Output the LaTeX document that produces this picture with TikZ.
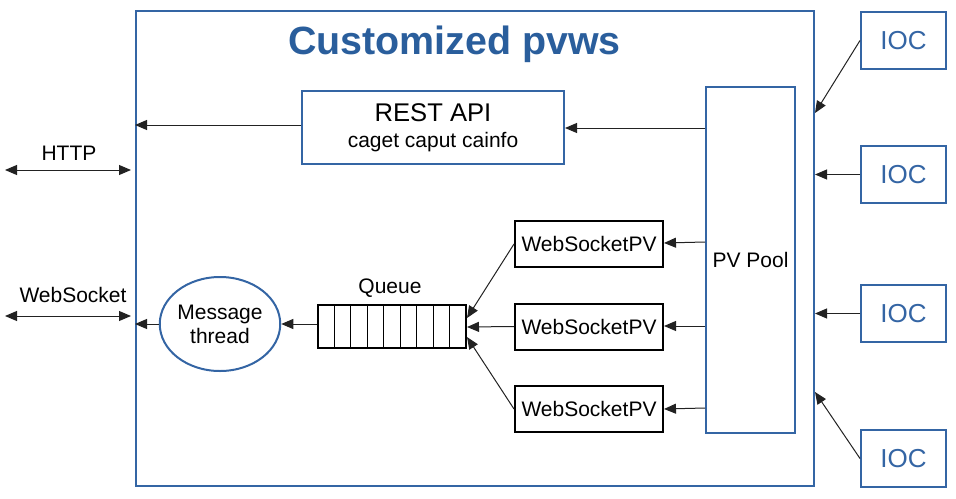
\documentclass[tikz,border=0pt]{standalone}
\usepackage{fontspec}
\setmainfont{Liberation Sans}
\usetikzlibrary{arrows.meta,shapes.geometric}
\definecolor{pvblue}{HTML}{3465A4}
\definecolor{titleblue}{HTML}{2A5E9C}
\definecolor{wire}{HTML}{222222}
\tikzset{
  bluebox/.style={draw=pvblue, line width=1pt, inner sep=0pt},
  blackbox/.style={draw=black, line width=1pt, inner sep=0pt},
  wirearrow/.style={draw=wire, line width=0.5pt, -{Triangle[length=6pt,width=5pt]}},
  twowayarrow/.style={draw=wire, line width=0.5pt, {Triangle[length=6pt,width=5pt]}-{Triangle[length=6pt,width=5pt]}},
  txt/.style={font=\fontsize{10.5}{12}\selectfont},
}
\begin{document}
\begin{tikzpicture}[x=0.5pt, y=-0.5pt]
    \useasboundingbox (0, 0) rectangle (956, 498);
    % outer server box
    \node[bluebox, minimum width=339pt, minimum height=237.5pt] (pvws) at (475, 248.5) {};
    \node[font=\fontsize{19.7}{22}\selectfont\bfseries, text=titleblue] (title) at (454.5, 44) {Customized pvws};
    % inside
    \node[bluebox, minimum width=131pt, minimum height=36.5pt, align=center,
          font=\fontsize{12.8}{13}\selectfont] (rest) at (433, 127.5)
          {REST API\\\fontsize{10.5}{12.5}\selectfont caget caput cainfo};
    \node[bluebox, minimum width=44.5pt, minimum height=173pt, txt] (pool) at (750.5, 260) {PV Pool};
    \node[blackbox, minimum width=74pt, minimum height=23pt, txt] (wspv1) at (589, 244) {WebSocketPV};
    \node[blackbox, minimum width=74pt, minimum height=23pt, txt] (wspv2) at (589, 326.5) {WebSocketPV};
    \node[blackbox, minimum width=74pt, minimum height=23pt, txt] (wspv3) at (589, 409) {WebSocketPV};
    % queue
    \node[blackbox, minimum width=74pt, minimum height=21.5pt] (queue) at (392, 326.5) {};
    \foreach \i in {1,...,8}
        \draw[black, line width=0.5pt] (318+\i*16.44, 305) -- (318+\i*16.44, 348);
    \node[txt] (queuelabel) at (390, 288) {Queue};
    \node[bluebox, ellipse, minimum width=57pt, minimum height=47pt, align=center,
          font=\fontsize{10.5}{12}\selectfont] (msg) at (220, 324) {Message\\thread};
    % IOCs
    \foreach \n/\y in {1/40.5, 2/174.5, 3/313.5, 4/458.5}
        \node[bluebox, minimum width=42.5pt, minimum height=28.5pt, text=pvblue,
              font=\fontsize{13}{15}\selectfont] (ioc\n) at (903.5, \y) {IOC};
    % clients
    \coordinate (httpend) at (5, 170);
    \coordinate (wsend) at (5, 316);
    \node[txt] (httplabel) at (69, 153) {HTTP};
    \node[txt] (wslabel) at (73, 295) {WebSocket};
    \draw[twowayarrow] (httpend) -- ([xshift=-2pt]httpend -| pvws.west);
    \draw[twowayarrow] (wsend) -- ([xshift=-2pt]wsend -| pvws.west);
    % connectors
    \draw[wirearrow] (rest.west |- 0, 125) -- (pvws.west |- 0, 125);
    \draw[wirearrow] (pool.west |- 0, 128) -- (rest.east |- 0, 128);
    \draw[wirearrow] (pool.west |- 0, 242) -- (wspv1.east |- 0, 243);
    \draw[wirearrow] (pool.west |- 0, 326) -- (wspv2.east |- 0, 326);
    \draw[wirearrow] (pool.west |- 0, 408) -- (wspv3.east |- 0, 409);
    \draw[wirearrow] (wspv1.west) -- (queue.east |- 0, 318);
    \draw[wirearrow] (wspv2.west) -- (queue.east |- 0, 327);
    \draw[wirearrow] (wspv3.west) -- (queue.east |- 0, 337);
    \draw[wirearrow] (queue.west |- msg.east) -- (msg.east);
    \draw[wirearrow] (msg.west) -- (pvws.west |- msg.west);
    \draw[wirearrow] (ioc1.west) -- (pvws.east |- 0, 113);
    \draw[wirearrow] (ioc2.west) -- (pvws.east |- ioc2.west);
    \draw[wirearrow] (ioc3.west) -- (pvws.east |- ioc3.west);
    \draw[wirearrow] (ioc4.west) -- (pvws.east |- 0, 392);
\end{tikzpicture}
\end{document}
